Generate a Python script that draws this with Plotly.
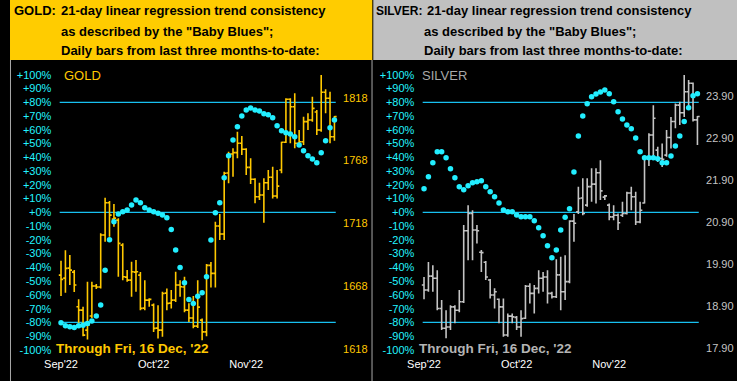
import plotly.graph_objects as go

# ---------------- data ----------------
DAYS = list(range(63))
MONTH_TICKS = [0, 21, 42]
MONTH_LABELS = ["Sep'22", "Oct'22", "Nov'22"]
PCT_TICKS = list(range(-100, 101, 10))
PCT_LABELS = [f"{v:+d}%" for v in PCT_TICKS]
REF_LEVELS = [80, 0, -80]

GOLD_PRICE_TICKS = [1618, 1668, 1718, 1768, 1818]
SILVER_PRICE_TICKS = [17.90, 18.90, 19.90, 20.90, 21.90, 22.90, 23.90]

GOLD_OPEN = [1676.7, 1674.3, 1682.3, 1679.1, 1651.5, 1648.8, 1632.9, 1644.1, 1668.0, 1667.2,
             1708.6, 1734.3, 1721.3, 1720.5, 1700.6, 1675.1, 1672.7, 1679.1, 1676.7, 1650.4,
             1656.8, 1652.8, 1634.5, 1632.9, 1662.4, 1654.4, 1656.8, 1668.8, 1667.2, 1648.8,
             1642.5, 1636.1, 1640.9, 1631.5, 1684.5, 1678.1, 1715.8, 1709.4, 1758.0, 1773.1,
             1774.2, 1781.7, 1776.9, 1762.5, 1753.0, 1739.1, 1740.5, 1750.3, 1754.6, 1739.7,
             1760.4, 1782.5, 1816.7, 1810.8, 1781.7, 1782.9, 1798.9, 1800.2, 1806.6, 1792.3,
             1822.3, 1817.5, 1786.9]
GOLD_HIGH = [1688.1, 1696.6, 1692.7, 1680.7, 1657.4, 1651.5, 1671.4, 1671.4, 1669.6, 1710.0,
             1738.3, 1735.7, 1733.3, 1721.9, 1702.0, 1680.7, 1687.3, 1688.7, 1679.1, 1672.7,
             1658.2, 1654.2, 1652.8, 1663.4, 1666.1, 1664.8, 1679.4, 1672.7, 1675.4, 1654.4,
             1660.0, 1672.7, 1642.2, 1685.5, 1687.1, 1719.2, 1725.3, 1759.0, 1775.0, 1777.7,
             1790.9, 1787.5, 1777.7, 1769.7, 1753.8, 1750.3, 1753.8, 1760.4, 1763.0, 1760.4,
             1782.9, 1817.5, 1817.5, 1821.5, 1792.3, 1802.9, 1805.6, 1818.8, 1808.2, 1836.1,
             1824.7, 1822.8, 1803.5]
GOLD_LOW = [1660.0, 1662.6, 1668.8, 1663.2, 1638.7, 1628.1, 1625.5, 1642.5, 1665.6, 1666.1,
            1703.3, 1707.2, 1715.2, 1675.4, 1672.7, 1671.4, 1659.4, 1663.4, 1648.8, 1648.8,
            1651.5, 1631.5, 1626.3, 1627.6, 1648.8, 1650.2, 1655.2, 1659.4, 1647.2, 1639.3,
            1634.3, 1634.5, 1624.9, 1628.1, 1666.9, 1666.9, 1704.6, 1704.6, 1749.8, 1755.0,
            1769.7, 1772.3, 1756.4, 1749.2, 1733.9, 1736.5, 1718.4, 1744.5, 1737.8, 1737.8,
            1757.8, 1781.9, 1781.7, 1777.7, 1779.0, 1780.3, 1792.3, 1798.9, 1788.3, 1790.9,
            1805.6, 1781.7, 1783.7]
GOLD_CLOSE = [1673.3, 1682.1, 1680.7, 1668.8, 1648.8, 1628.9, 1636.9, 1668.0, 1667.2, 1708.6,
              1734.3, 1724.5, 1722.1, 1702.0, 1675.4, 1672.7, 1679.4, 1679.4, 1650.2, 1656.8,
              1657.4, 1634.3, 1632.9, 1662.1, 1654.2, 1656.8, 1668.8, 1667.4, 1648.8, 1642.5,
              1636.1, 1651.2, 1631.5, 1684.5, 1678.1, 1715.8, 1709.4, 1757.8, 1773.1, 1774.2,
              1781.7, 1776.9, 1762.5, 1753.0, 1739.1, 1740.5, 1750.3, 1754.6, 1739.7, 1747.6,
              1782.5, 1816.7, 1810.8, 1781.7, 1782.9, 1798.9, 1800.2, 1809.5, 1792.3, 1822.3,
              1817.5, 1786.9, 1802.9]
GOLD_BLUES = [-80.3, -82.5, -83.2, -83.7, -82.5, -82.0, -80.8, -79.0, -75.4, -67.4,
              -42.0, -19.9, -6.8, -1.2, 0.5, 1.7, 5.3, 9.0, 7.0, 3.4,
              1.7, 0.5, -0.7, -2.0, -3.9, -12.4, -27.4, -40.0, -51.2, -63.3,
              -66.2, -60.9, -58.5, -46.8, -20.1, -0.3, 7.0, 25.2, 41.2, 52.6,
              62.3, 70.0, 74.4, 75.9, 74.4, 73.7, 71.7, 71.0, 68.8, 63.0,
              59.3, 57.9, 56.9, 55.0, 49.0, 44.8, 41.2, 38.8, 36.1, 43.3,
              52.1, 61.5, 67.1]

SILVER_OPEN = [19.41, 19.29, 19.62, 19.57, 18.85, 18.38, 18.41, 18.89, 18.81, 19.01,
               20.70, 21.11, 20.72, 20.19, 19.95, 19.53, 19.17, 19.07, 18.89, 18.22,
               18.67, 18.64, 18.41, 18.62, 19.38, 19.21, 19.33, 19.57, 19.60, 19.21,
               19.13, 19.65, 19.25, 19.49, 20.93, 21.15, 21.48, 21.31, 21.75, 21.81,
               22.08, 21.50, 21.31, 21.03, 21.07, 21.07, 21.11, 21.60, 21.51, 20.91,
               21.36, 22.44, 22.98, 22.62, 22.42, 22.50, 22.92, 23.30, 23.69, 23.51,
               24.01, 24.21, 23.34]
SILVER_HIGH = [19.60, 19.96, 19.88, 19.76, 19.05, 18.81, 18.93, 18.93, 19.29, 20.84,
               21.31, 21.19, 20.84, 20.24, 19.98, 19.55, 19.33, 19.09, 19.09, 18.73,
               18.73, 18.67, 18.81, 19.41, 19.45, 19.41, 19.76, 19.72, 19.76, 19.25,
               20.02, 20.08, 20.12, 20.95, 21.10, 21.75, 21.95, 21.95, 22.19, 22.19,
               22.38, 21.55, 21.35, 21.31, 21.11, 21.39, 21.63, 21.75, 21.63, 21.39,
               22.46, 23.02, 23.69, 22.70, 22.78, 23.10, 23.41, 23.73, 23.77, 24.41,
               24.29, 24.23, 23.43]
SILVER_LOW = [19.07, 19.25, 19.25, 18.81, 18.34, 18.14, 18.34, 18.50, 18.76, 18.98,
              20.00, 20.00, 20.40, 19.72, 19.53, 19.09, 18.85, 18.50, 18.18, 18.18,
              18.50, 18.34, 18.18, 18.60, 18.97, 18.73, 19.21, 19.25, 18.97, 19.09,
              19.10, 18.81, 19.05, 19.45, 20.44, 21.10, 21.07, 21.27, 21.39, 21.35,
              21.43, 21.43, 20.95, 20.95, 20.72, 21.03, 21.09, 21.19, 20.84, 20.88,
              21.35, 22.24, 22.42, 22.34, 22.22, 22.46, 22.66, 23.14, 23.22, 23.41,
              23.61, 23.30, 22.74]
SILVER_CLOSE = [19.29, 19.62, 19.57, 18.85, 18.38, 18.41, 18.89, 18.81, 19.01, 20.70,
                21.11, 20.72, 20.70, 20.18, 19.60, 19.17, 19.25, 18.89, 18.22, 18.67,
                18.65, 18.41, 18.61, 19.38, 19.21, 19.33, 19.57, 19.60, 19.21, 19.13,
                19.65, 19.25, 19.49, 20.93, 20.88, 21.47, 21.11, 21.75, 21.81, 22.08,
                21.65, 21.53, 21.03, 21.07, 20.89, 21.11, 21.60, 21.51, 20.91, 21.19,
                22.44, 22.98, 23.38, 22.42, 22.40, 22.92, 23.30, 23.69, 23.51, 24.01,
                24.21, 23.34, 23.42]
SILVER_BLUES = [17.2, 25.9, 36.1, 44.1, 44.1, 39.7, 31.7, 25.2, 18.6, 16.4,
                19.3, 21.5, 22.3, 23.0, 18.6, 15.0, 11.3, 6.8, 1.7, 0.5,
                0.5, -2.0, -3.2, -3.2, -3.2, -6.1, -11.2, -17.0, -24.3, -33.0,
                -27.4, -12.9, -3.6, 2.6, 29.3, 55.5, 70.0, 79.0, 84.1, 86.0,
                87.5, 88.9, 86.3, 80.4, 73.2, 67.9, 63.5, 60.8, 54.0, 44.1,
                39.7, 39.7, 39.7, 39.0, 36.1, 36.1, 40.9, 48.2, 55.5, 66.0,
                76.1, 84.8, 86.3]

# ---------------- styling / layout ----------------
W, H = 737, 381
FONT = "Liberation Sans, Arial, sans-serif"
GOLD_C = "#FFC800"
SILVER_C = "#C4C4C4"
CYAN_TXT = "#22F4FF"
DOT_C = "#22EEFF"
LINE_C = "#18C0F0"

PCT_RANGE = [-104.4, 109.3]
GOLD_RANGE = [1612.3, 1846.4]
SILVER_RANGE = [17.72, 24.717]
X_RANGE = [-1.5, 63.5]


def px(x):
    return x / W


def py(y):
    return 1 - y / H


Y_DOM = [py(356), py(62)]
GOLD_XDOM = [px(45.0), px(335.6)]
SILVER_XDOM = [px(413.0), px(703.6)]

fig = go.Figure()

fig.add_trace(go.Ohlc(x=DAYS, open=GOLD_OPEN, high=GOLD_HIGH, low=GOLD_LOW, close=GOLD_CLOSE,
                      xaxis="x", yaxis="y", tickwidth=0.5,
                      increasing=dict(line=dict(color=GOLD_C, width=1.6)),
                      decreasing=dict(line=dict(color=GOLD_C, width=1.6)),
                      hoverinfo="skip", showlegend=False))
fig.add_trace(go.Scatter(x=DAYS, y=GOLD_BLUES, mode="markers", xaxis="x", yaxis="y2",
                         marker=dict(color=DOT_C, size=5.5), hoverinfo="skip", showlegend=False))
fig.add_trace(go.Ohlc(x=DAYS, open=SILVER_OPEN, high=SILVER_HIGH, low=SILVER_LOW, close=SILVER_CLOSE,
                      xaxis="x2", yaxis="y3", tickwidth=0.5,
                      increasing=dict(line=dict(color=SILVER_C, width=1.6)),
                      decreasing=dict(line=dict(color=SILVER_C, width=1.6)),
                      hoverinfo="skip", showlegend=False))
fig.add_trace(go.Scatter(x=DAYS, y=SILVER_BLUES, mode="markers", xaxis="x2", yaxis="y4",
                         marker=dict(color=DOT_C, size=5.5), hoverinfo="skip", showlegend=False))

shapes = []
shapes.append(dict(type="rect", xref="paper", yref="paper", x0=0, x1=px(367.3), y0=py(60), y1=1,
                   fillcolor="#FFCC00", line=dict(width=0), layer="below"))
shapes.append(dict(type="rect", xref="paper", yref="paper", x0=px(368.3), x1=1, y0=py(60), y1=1,
                   fillcolor="#C0C0C0", line=dict(width=0), layer="below"))
shapes.append(dict(type="line", xref="paper", yref="paper", x0=px(367), x1=px(367), y0=0, y1=py(60),
                   line=dict(color="#A8A8A8", width=1)))
shapes.append(dict(type="line", xref="paper", yref="paper", x0=px(0.5), x1=px(0.5), y0=0, y1=py(60),
                   line=dict(color="#A8A8A8", width=1)))
for lv in REF_LEVELS:
    shapes.append(dict(type="line", xref="x", yref="y2", x0=-0.3, x1=62.3, y0=lv, y1=lv,
                       line=dict(color=LINE_C, width=1.3), layer="below"))
    shapes.append(dict(type="line", xref="x2", yref="y4", x0=-0.3, x1=62.3, y0=lv, y1=lv,
                       line=dict(color=LINE_C, width=1.3), layer="below"))

ann = []


def text(x, y, s, color, size, bold=False, anchor="left"):
    ann.append(dict(x=px(x), y=py(y), xref="paper", yref="paper", xanchor=anchor, yanchor="middle",
                    text=f"<b>{s}</b>" if bold else s, showarrow=False, borderpad=0,
                    font=dict(family=FONT, size=size, color=color)))


HEAD = ["21-day linear regression trend consistency",
        "as described by the \"Baby Blues\";",
        "Daily bars from last three months-to-date:"]
text(3, 11, "GOLD:", "#000000", 13, True)
text(51, 11, HEAD[0], "#000000", 13, True)
text(370.5, 11, "SILVER:", "#000000", 12, True)
text(422, 11, HEAD[0], "#000000", 13, True)
for k in (1, 2):
    text(51, 11 + 20 * k, HEAD[k], "#000000", 13, True)
    text(419, 11 + 20 * k, HEAD[k], "#000000", 13, True)

text(54, 76, "GOLD", GOLD_C, 13)
text(417, 76, "SILVER", "#A8A8A8", 13)
text(46, 348, "Through Fri, 16 Dec, '22", GOLD_C, 13.5, True)
text(414, 348, "Through Fri, 16 Dec, '22", "#B4B4B4", 13.5, True)

axis_common = dict(showgrid=False, zeroline=False, showline=False, ticks="")
xfont = dict(family=FONT, size=11, color="#FFFFFF")
pfont = dict(family=FONT, size=11, color=CYAN_TXT)

fig.update_layout(
    width=W, height=H, autosize=False, margin=dict(l=0, r=0, t=0, b=0, pad=0),
    paper_bgcolor="#000000", plot_bgcolor="#000000",
    shapes=shapes, annotations=ann, showlegend=False,
    xaxis=dict(domain=GOLD_XDOM, range=X_RANGE, anchor="y", tickvals=MONTH_TICKS,
               ticktext=MONTH_LABELS, tickfont=xfont, rangeslider=dict(visible=False),
               fixedrange=True, **axis_common),
    yaxis=dict(domain=Y_DOM, range=GOLD_RANGE, anchor="x", side="right",
               tickvals=GOLD_PRICE_TICKS, tickfont=dict(family=FONT, size=11, color=GOLD_C),
               ticklabelstandoff=1, **axis_common),
    yaxis2=dict(range=PCT_RANGE, overlaying="y", anchor="x", side="left",
                tickvals=PCT_TICKS, ticktext=PCT_LABELS, tickfont=pfont,
                ticklabelstandoff=2, **axis_common),
    xaxis2=dict(domain=SILVER_XDOM, range=X_RANGE, anchor="y3", tickvals=MONTH_TICKS,
                ticktext=MONTH_LABELS, tickfont=xfont, rangeslider=dict(visible=False),
                fixedrange=True, **axis_common),
    yaxis3=dict(domain=Y_DOM, range=SILVER_RANGE, anchor="x2", side="right",
                tickvals=SILVER_PRICE_TICKS, tickformat=".2f",
                tickfont=dict(family=FONT, size=11, color=SILVER_C),
                ticklabelstandoff=1, **axis_common),
    yaxis4=dict(range=PCT_RANGE, overlaying="y3", anchor="x2", side="left",
                tickvals=PCT_TICKS, ticktext=PCT_LABELS, tickfont=pfont,
                ticklabelstandoff=2, **axis_common),
)

fig.write_html(
    "out.html",
    config={"displayModeBar": False, "responsive": False},
    post_script="document.body.style.margin='0';document.body.style.padding='0';"
                "document.body.style.overflow='hidden';"
                "document.documentElement.style.overflow='hidden';",
)
